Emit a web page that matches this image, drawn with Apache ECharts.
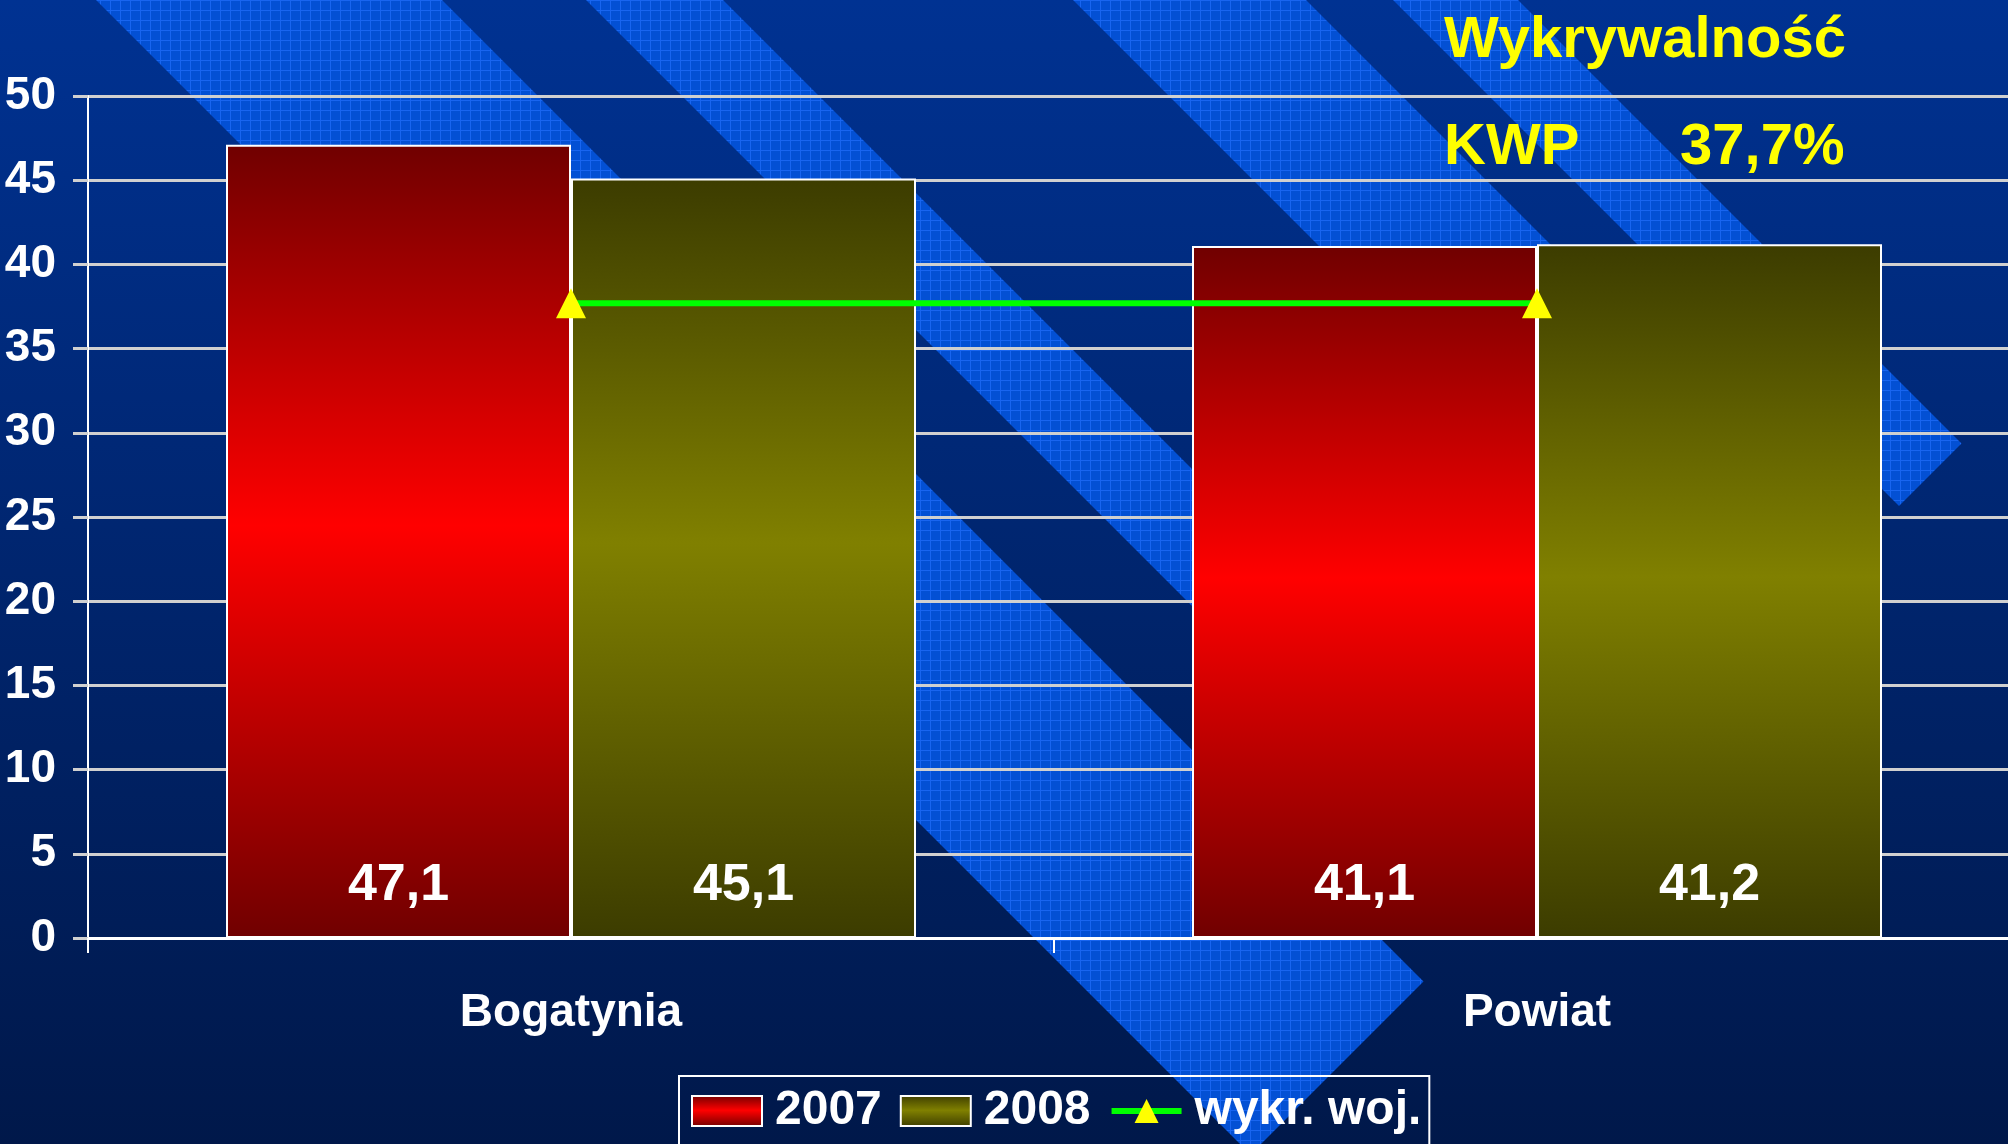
<!DOCTYPE html>
<html>
<head>
<meta charset="utf-8">
<script src="https://cdn.jsdelivr.net/npm/echarts@6/dist/echarts.min.js"></script>
<style>
    html, body {margin: 0; padding: 0; background: #002a80; overflow: hidden;}
    /* os X wychodzi poza prawa krawedz obrazka */
    #main {width: 2020px; height: 1144px;}
</style>
</head>
<body>
<div id="main"></div>
<script>
// dane
var categories = ['Bogatynia', 'Powiat'];
var years = ['2007', '2008'];
var values2007 = [47.1, 41.1];
var values2008 = [45.1, 41.2];
var lineName = 'wykr. woj.';
var lineValues = [37.7, 37.7];
var kwpValue = 37.7;
var yTicks = {min: 0, max: 50, interval: 5};

var FONT = '"Liberation Sans", Arial, sans-serif';

function pl(v) {
    return String(v).replace('.', ',');
}

// tlo - ukosne pasy z kratka
var tex = document.createElement('canvas');
tex.width = 10;
tex.height = 10;
var tctx = tex.getContext('2d');
tctx.fillStyle = '#0350d4';
tctx.fillRect(0, 0, 10, 10);
tctx.fillStyle = '#1865f0';
tctx.fillRect(0, 0, 10, 1);
tctx.fillRect(0, 0, 1, 10);

// pasy: x - y = const, uciete na linii x + y = 2405
var stripes = [[96, 442], [586, 723], [1073, 1306], [1393, 1518]];
var cut = 2405;
var bg = stripes.map(function (s) {
    var t = -40;
    return {
        type: 'polygon',
        z: -10,
        silent: true,
        shape: {
            points: [
                [s[0] + t, t], [s[1] + t, t],
                [(cut + s[1]) / 2, (cut - s[1]) / 2],
                [(cut + s[0]) / 2, (cut - s[0]) / 2]
            ]
        },
        style: {fill: {image: tex, repeat: 'repeat'}}
    };
});

var myChart = echarts.init(document.getElementById('main'));

function vGrad(dark, light) {
    return new echarts.graphic.LinearGradient(0, 0, 0, 1, [
        {offset: 0, color: dark},
        {offset: 0.48, color: light},
        {offset: 1, color: dark}
    ]);
}

var titleStyle = {
    color: '#ffff00',
    fontSize: 58,
    fontWeight: 'bold',
    fontFamily: FONT,
    textShadowColor: '#000000',
    textShadowOffsetX: 3,
    textShadowOffsetY: 3,
    textShadowBlur: 0
};

var barLabel = {
    show: true,
    position: 'insideBottom',
    distance: 26,
    color: '#ffffff',
    fontSize: 52,
    fontWeight: 'bold',
    fontFamily: FONT,
    formatter: function (p) {
        return pl(p.value);
    }
};

var option = {
    backgroundColor: new echarts.graphic.LinearGradient(0, 0, 0, 1, [
        {offset: 0, color: '#003292'},
        {offset: 1, color: '#00184a'}
    ]),
    animation: false,
    graphic: bg,
    title: [
        {text: 'Wykrywalność', left: 1444, top: 12, padding: 0, textStyle: titleStyle},
        {text: 'KWP', left: 1444, top: 119, padding: 0, textStyle: titleStyle},
        {text: pl(kwpValue) + '%', left: 1680, top: 119, padding: 0, textStyle: titleStyle}
    ],
    legend: {
        data: [
            {name: years[0], icon: 'rect'},
            {name: years[1], icon: 'rect'},
            {name: lineName}
        ],
        left: 679,
        top: 1076,
        padding: [10, 8, 40, 12],
        itemGap: 18,
        itemWidth: 70,
        itemHeight: 30,
        borderColor: '#ffffff',
        borderWidth: 2,
        lineStyle: {width: 6},
        textStyle: {
            color: '#ffffff',
            fontSize: 48,
            fontWeight: 'bold',
            fontFamily: FONT,
            lineHeight: 50,
            padding: [0, 0, 0, 8]
        }
    },
    grid: {left: 88, right: 0, top: 96, bottom: 206},
    xAxis: {
        type: 'category',
        data: categories,
        axisLine: {lineStyle: {color: '#ffffff', width: 3}},
        axisTick: {show: true, length: 15, lineStyle: {color: '#ffffff', width: 2}},
        axisLabel: {
            color: '#ffffff',
            fontSize: 46,
            fontWeight: 'bold',
            fontFamily: FONT,
            margin: 52
        }
    },
    yAxis: {
        type: 'value',
        min: yTicks.min,
        max: yTicks.max,
        interval: yTicks.interval,
        axisLine: {show: true, lineStyle: {color: '#ffffff', width: 2}},
        axisTick: {show: true, length: 15, lineStyle: {color: '#d0d0d0', width: 3}},
        splitLine: {lineStyle: {color: '#d0d0d0', width: 3}},
        axisLabel: {
            color: '#ffffff',
            fontSize: 46,
            fontWeight: 'bold',
            fontFamily: FONT,
            margin: 32
        }
    },
    series: [
        {
            name: years[0],
            type: 'bar',
            data: values2007,
            barWidth: 345,
            barGap: '0%',
            itemStyle: {color: vGrad('#700000', '#ff0000'), borderColor: '#ffffff', borderWidth: 2},
            label: barLabel
        },
        {
            name: years[1],
            type: 'bar',
            data: values2008,
            barWidth: 345,
            barGap: '0%',
            itemStyle: {color: vGrad('#3c3c00', '#808000'), borderColor: '#ffffff', borderWidth: 2},
            label: barLabel
        },
        {
            name: lineName,
            type: 'line',
            data: lineValues,
            z: 5,
            symbol: 'triangle',
            symbolSize: 30,
            itemStyle: {color: '#ffff00'},
            lineStyle: {color: '#00ff00', width: 6}
        }
    ]
};

myChart.setOption(option);
</script>
</body>
</html>
